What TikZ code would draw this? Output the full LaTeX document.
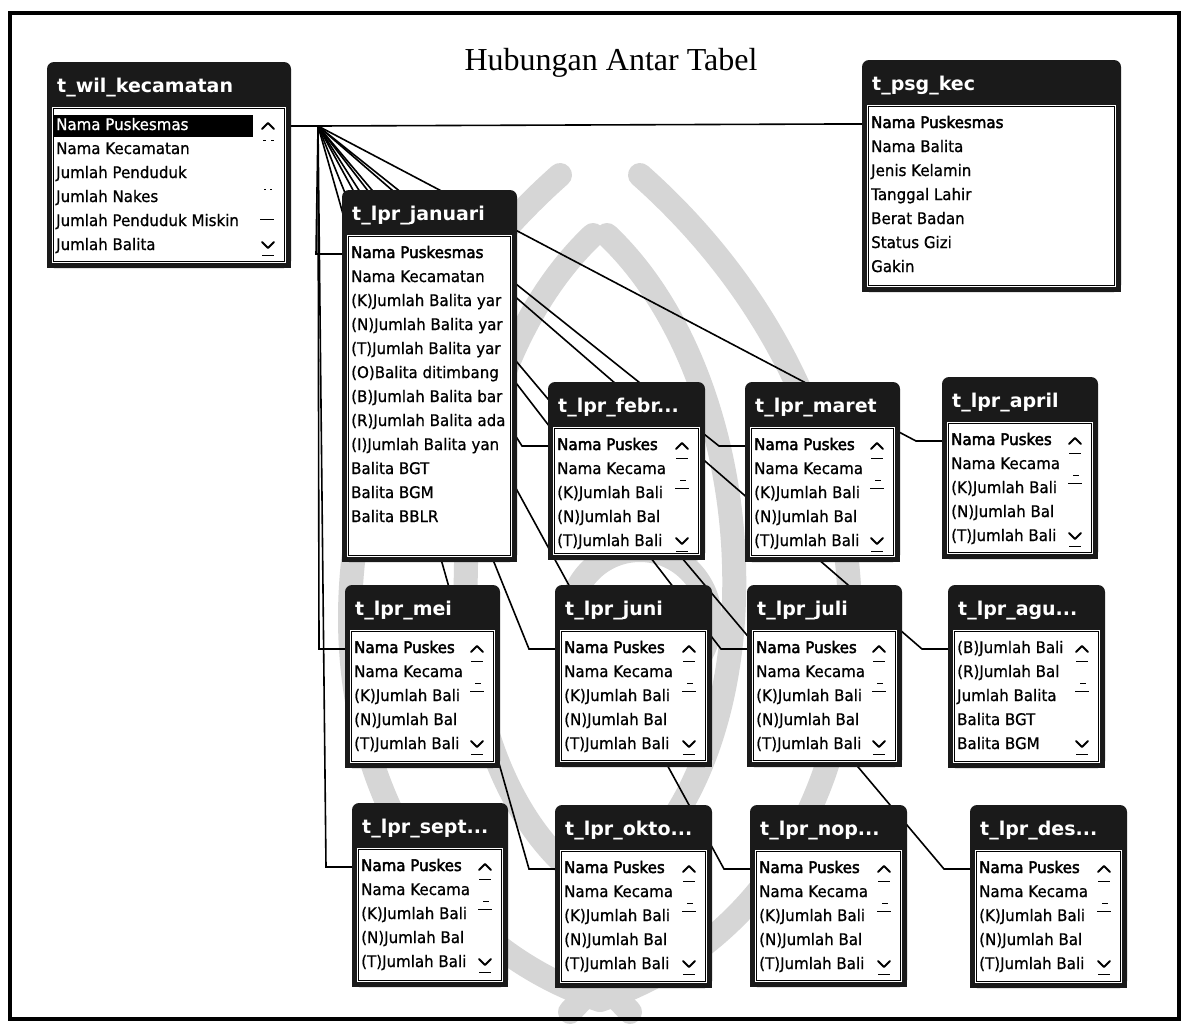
\documentclass[tikz,border=0pt]{standalone}
\usepackage{fontspec}
\usetikzlibrary{calc,backgrounds}
\newfontfamily\fieldfont[FakeStretch=0.94,FakeBold=0.8]{DejaVu Sans}
\newfontfamily\keyfont[FakeStretch=0.94,FakeBold=2.6]{DejaVu Sans}
\newfontfamily\hdrfont{DejaVu Sans}
\newfontfamily\ttlserif{Liberation Serif}
\definecolor{hdrcol}{HTML}{1A1A1A}
\definecolor{markgray}{HTML}{D6D6D6}

\tikzset{
  tblframe/.style={inner sep=0pt, outer sep=0pt, anchor=north west},
  tbltitle/.style={anchor=west, inner sep=0pt, text=white, text height=14pt, text depth=4pt,
    font=\hdrfont\bfseries\fontsize{19}{22}\selectfont},
  fieldtxt/.style={anchor=west, inner sep=0pt, text height=11pt, text depth=3pt,
    font=\fieldfont\fontsize{16}{18}\selectfont},
  keytxt/.style={fieldtxt, font=\keyfont\fontsize{16}{18}\selectfont},
  seltxt/.style={fieldtxt, text=white},
  rel/.style={line width=1.6pt, black},
  scr/.style={line width=2pt, line cap=round, line join=round},
  tick/.style={line width=1pt},
  emblem/.style={draw=markgray, line width=24pt, line cap=round}
}

% one Access-style table window: name, x, y, width, height, caption
\newcommand{\acctable}[6]{%
  \node[tblframe, minimum width=#4pt, minimum height=#5pt] (#1) at (#2,#3) {};
  \fill[hdrcol, rounded corners=7pt] (#1.north west) rectangle (#1.south east);
  \fill[hdrcol] (#1.west) rectangle (#1.south east);
  \fill[white] ($(#1.north west)+(5,45)$) rectangle ($(#1.south east)+(-5,-5)$);
  \draw[line width=1pt] ($(#1.north west)+(6.5,46.5)$) rectangle ($(#1.south east)+(-6.5,-6.5)$);
  \node[tbltitle] (#1-title) at ($(#1.north west)+(10,25)$) {#6};
  \coordinate (#1-in) at ($(#1.north west)+(0,64)$);
  \coordinate (#1-stub) at ($(#1.north west)+(-26,64)$);
}
% one field row: [style] table, row index, text
\newcommand{\fld}[4][fieldtxt]{%
  \node[#1] at ($(#2.north west)+(9,{64+24*#3})$) {#4};}
% scroll bar arrows: table, index of the last visible row
\newcommand{\scrollmarks}[2]{%
  \draw[scr] ($(#1.north east)+(-29,67)$) -- ++(6,-6) -- ++(6,6);
  \draw[tick] ($(#1.north east)+(-29,76)$) -- ++(12,0);
  \draw[tick] ($(#1.north east)+(-25,98)$) -- ++(6,0);
  \draw[tick] ($(#1.north east)+(-30,106)$) -- ++(14,0);
  \draw[scr] ($(#1.north east)+(-29,{60+24*#2})$) -- ++(6,6) -- ++(6,-6);
  \draw[tick] ($(#1.north east)+(-29,{73+24*#2})$) -- ++(12,0);
}
% five-row monthly table
\newcommand{\monthrows}[1]{%
  \fld[keytxt]{#1}{0}{Nama Puskes}
  \fld{#1}{1}{Nama Kecama}
  \fld{#1}{2}{(K)Jumlah Bali}
  \fld{#1}{3}{(N)Jumlah Bal}
  \fld{#1}{4}{(T)Jumlah Bali}
  \scrollmarks{#1}{4}
}

\begin{document}
\begin{tikzpicture}[x=1pt,y=-1pt]
\useasboundingbox (0,0) rectangle (1188,1023);
\begin{pgfonlayer}{background}
\fill[white] (0,0) rectangle (1188,1023);
% faint emblem printed behind the diagram
\draw[emblem] (600,1000) .. controls (300,900) and (250,450) .. (560,175);
\draw[emblem] (600,1000) .. controls (900,900) and (950,450) .. (640,175);
\draw[emblem] (560,860) .. controls (420,720) and (440,380) .. (593,235);
\draw[emblem] (640,860) .. controls (780,720) and (760,380) .. (607,235);
\draw[emblem] (640,620) circle[radius=70];
\draw[emblem] (600,980) -- (570,1012) (600,980) -- (630,1012);
\end{pgfonlayer}
\draw[line width=3.5pt] (10,13) rectangle (1179,1019);

\node[font=\ttlserif\fontsize{32}{38}\selectfont, anchor=base, inner sep=0pt] (title) at (611,70) {Hubungan Antar Tabel};

% master table
\acctable{wil}{47}{62}{244}{206}{t\_wil\_kecamatan}
\fill[black] ($(wil.north west)+(7,53)$) rectangle ($(wil.north west)+(206,75)$);
\fld[seltxt]{wil}{0}{Nama Puskesmas}
\fld{wil}{1}{Nama Kecamatan}
\fld{wil}{2}{Jumlah Penduduk}
\fld{wil}{3}{Jumlah Nakes}
\fld{wil}{4}{Jumlah Penduduk Miskin}
\fld{wil}{5}{Jumlah Balita}
\draw[scr] ($(wil.north east)+(-29,67)$) -- ++(6,-6) -- ++(6,6);
\draw[tick] ($(wil.north east)+(-28,78)$) -- ++(3,0) ++(5,0) -- ++(3,0);
\draw[tick] ($(wil.north east)+(-27,127)$) -- ++(2,0) ++(4,0) -- ++(2,0);
\draw[tick] ($(wil.north east)+(-31,157)$) -- ++(14,0);
\draw[scr] ($(wil.north east)+(-29,180)$) -- ++(6,6) -- ++(6,-6);
\draw[tick] ($(wil.north east)+(-29,193)$) -- ++(12,0);
\coordinate (wil-out) at ($(wil.north east)+(0,64)$);
\coordinate (hub) at ($(wil.north east)+(27,64)$);

\acctable{psg}{862}{60}{259}{232}{t\_psg\_kec}
\fld[keytxt]{psg}{0}{Nama Puskesmas}
\fld{psg}{1}{Nama Balita}
\fld{psg}{2}{Jenis Kelamin}
\fld{psg}{3}{Tanggal Lahir}
\fld{psg}{4}{Berat Badan}
\fld{psg}{5}{Status Gizi}
\fld{psg}{6}{Gakin}

\acctable{jan}{342}{190}{175}{372}{t\_lpr\_januari}
\fld[keytxt]{jan}{0}{Nama Puskesmas}
\fld{jan}{1}{Nama Kecamatan}
\fld{jan}{2}{(K)Jumlah Balita yar}
\fld{jan}{3}{(N)Jumlah Balita yar}
\fld{jan}{4}{(T)Jumlah Balita yar}
\fld{jan}{5}{(O)Balita ditimbang}
\fld{jan}{6}{(B)Jumlah Balita bar}
\fld{jan}{7}{(R)Jumlah Balita ada}
\fld{jan}{8}{(I)Jumlah Balita yan}
\fld{jan}{9}{Balita BGT}
\fld{jan}{10}{Balita BGM}
\fld{jan}{11}{Balita BBLR}

\acctable{feb}{548}{382}{157}{178}{t\_lpr\_febr...}
\monthrows{feb}
\acctable{mar}{745}{382}{155}{180}{t\_lpr\_maret}
\monthrows{mar}
\acctable{apr}{942}{377}{156}{182}{t\_lpr\_april}
\monthrows{apr}
\acctable{mei}{345}{585}{155}{183}{t\_lpr\_mei}
\monthrows{mei}
\acctable{jun}{555}{585}{157}{182}{t\_lpr\_juni}
\monthrows{jun}
\acctable{jul}{747}{585}{155}{182}{t\_lpr\_juli}
\monthrows{jul}
\acctable{agu}{948}{585}{157}{183}{t\_lpr\_agu...}
\fld{agu}{0}{(B)Jumlah Bali}
\fld{agu}{1}{(R)Jumlah Bal}
\fld{agu}{2}{Jumlah Balita}
\fld{agu}{3}{Balita BGT}
\fld{agu}{4}{Balita BGM}
\scrollmarks{agu}{4}
\acctable{sep}{352}{803}{156}{184}{t\_lpr\_sept...}
\monthrows{sep}
\acctable{okt}{555}{805}{157}{183}{t\_lpr\_okto...}
\monthrows{okt}
\acctable{nop}{750}{805}{157}{182}{t\_lpr\_nop...}
\monthrows{nop}
\acctable{des}{970}{805}{157}{183}{t\_lpr\_des...}
\monthrows{des}

% relationship lines run behind the table windows
\begin{pgfonlayer}{background}
\foreach \t in {psg,jan,feb,mar,apr,mei,jun,jul,agu,sep,okt,nop,des}
  \draw[rel] (wil-out) -- (hub) -- (\t-stub) -- (\t-in);
\end{pgfonlayer}
\end{tikzpicture}
\end{document}
